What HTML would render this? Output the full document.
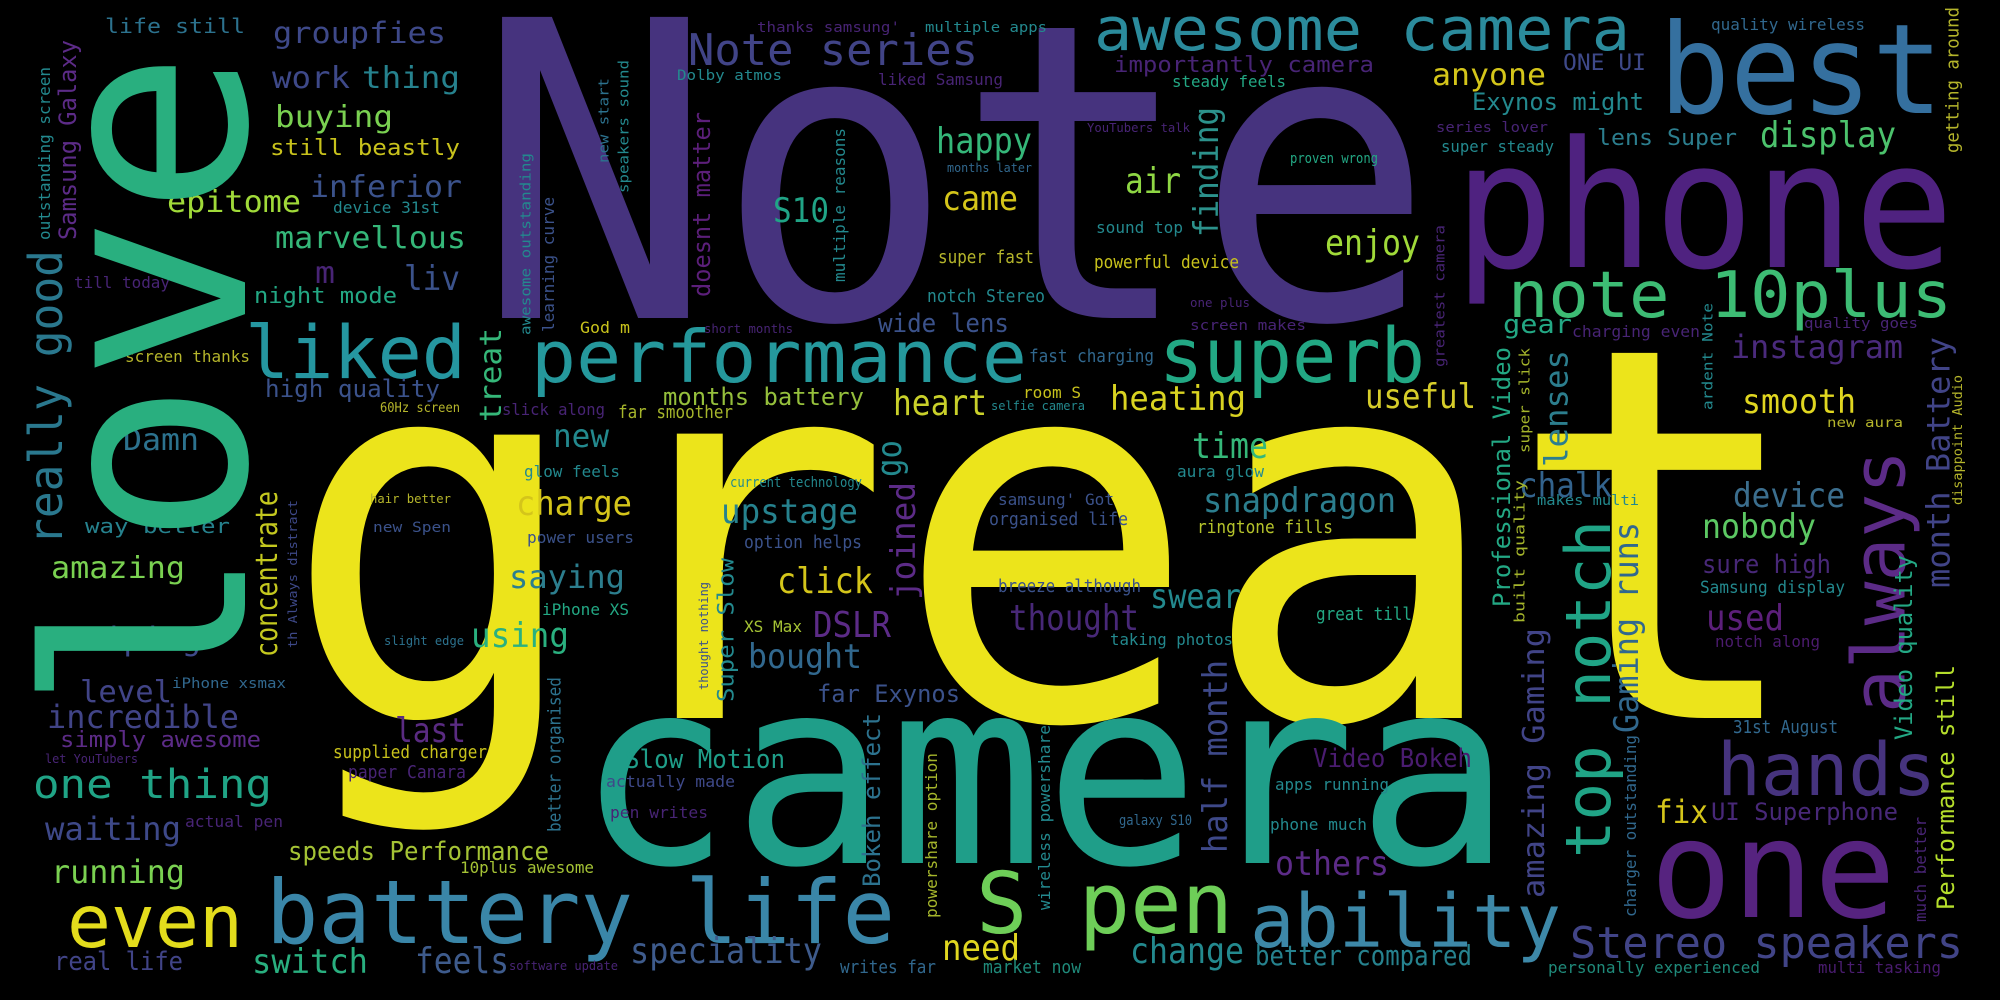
<!DOCTYPE html>
<html><head><meta charset="utf-8"><title>Word cloud</title>
<style>
html,body{margin:0;padding:0;background:#000;}
svg{display:block;}
text{font-family:"DejaVu Sans Mono","Liberation Mono",monospace;}
</style></head>
<body>
<svg id="cloud" width="2000" height="1000" viewBox="0 0 2000 1000" xmlns="http://www.w3.org/2000/svg">
<rect x="0" y="0" width="2000" height="1000" fill="#000"/>
</svg>
<script>
// horizontal words: text, x0, x1, baseline, size, color
const hWords = [
["Note",475,1435,318,413,"#46337e"],
["great",281,1811,718,520,"#ece41b"],
["camera",576,1512,863,259,"#1f9e89"],
["phone",1454,1954,267,176,"#4f2280"],
["best",1659,1943,113,125,"#35709f"],
["one",1650,1896,917,136,"#56237f"],
["hands",1717,1936,795,73,"#46337e"],
["superb",1159,1425,382,76,"#22a884"],
["performance",531,1027,382,72,"#25989c"],
["liked",245,466,378,73,"#2596a0"],
["note 10plus",1508,1952,317,64,"#3dbc74"],
["awesome camera",1094,1630,50,60,"#2b8b9c"],
["Note series",688,978,65,44,"#414487"],
["battery life",266,895,943,88,"#3a86a8"],
["S pen",976,1233,933,85,"#6ece58"],
["ability",1250,1561,947,74,"#3d88a8"],
["even",67,243,947,73,"#e3dc1c"],
["Stereo speakers",1570,1963,958,44,"#414487"],
["instagram",1731,1903,358,32,"#4a2a7c"],
["smooth",1742,1856,413,34,"#e0d620"],
["useful",1365,1476,408,34,"#d6cd2a"],
["heating",1110,1246,410,34,"#d9d321"],
["heart",893,987,415,36,"#c9d02a"],
["months battery",663,864,405,24,"#95bf3c"],
["chalk",1519,1612,497,34,"#33638d"],
["device",1733,1845,507,34,"#3b6e8e"],
["nobody",1702,1816,538,34,"#5cc863"],
["sure high",1702,1831,573,26,"#482878"],
["Samsung display",1700,1845,593,17,"#23898e"],
["used",1706,1784,630,36,"#5c1f7a"],
["notch along",1715,1820,647,16,"#4b1b6e"],
["31st August",1733,1838,733,18,"#31688e"],
["fix",1655,1708,823,32,"#d4c51a"],
["UI Superphone",1711,1898,820,24,"#482878"],
["personally experienced",1548,1760,973,16,"#1f8a7a"],
["multi tasking",1818,1941,973,16,"#4a1c70"],
["Video Bokeh",1313,1472,767,26,"#4a1c70"],
["apps running",1275,1389,790,16,"#23898e"],
["phone much",1270,1367,830,16,"#23898e"],
["others",1275,1389,875,34,"#5c2b87"],
["better compared",1255,1472,965,28,"#26828e"],
["change",1130,1244,963,36,"#23898e"],
["need",942,1020,960,36,"#e0d620"],
["writes far",840,936,973,18,"#31688e"],
["market now",983,1081,973,18,"#1f8a7a"],
["galaxy S10",1119,1192,825,14,"#31688e"],
["speciality",630,822,963,36,"#3e5b8c"],
["software update",509,618,970,12,"#482475"],
["feels",415,509,973,36,"#3e5b8c"],
["switch",252,368,973,34,"#29af7f"],
["real life",54,183,970,26,"#414487"],
["running",51,185,883,32,"#7ad151"],
["10plus awesome",460,594,873,16,"#a5c335"],
["speeds Performance",288,549,860,26,"#a5c335"],
["waiting",45,181,840,32,"#3e4989"],
["actual pen",185,283,827,16,"#482475"],
["one thing",33,272,798,40,"#20a486"],
["paper Canara",348,466,778,18,"#482475"],
["supplied charger",333,487,758,18,"#c8c21c"],
["last",395,466,742,34,"#5a2b82"],
["let YouTubers",45,138,763,12,"#482475"],
["simply awesome",60,261,747,22,"#5c2b87"],
["incredible",47,239,728,32,"#414487"],
["iPhone xsmax",172,286,688,14,"#31688e"],
["level",80,172,702,30,"#414487"],
["using",471,569,647,34,"#2ab07f"],
["slight edge",384,464,645,12,"#2c728e"],
["swiping",65,201,650,32,"#3e4989"],
["iPhone XS",542,629,615,16,"#23a884"],
["saying",509,625,588,32,"#2c7e8e"],
["power users",527,634,543,16,"#3b528b"],
["charge",516,632,515,34,"#d4c51a"],
["new Spen",373,451,532,14,"#3b528b"],
["hair better",370,451,503,12,"#b5b52b"],
["amazing",51,185,578,30,"#7ad151"],
["way better",85,230,533,20,"#26828e"],
["Slow Motion",625,785,768,26,"#1f9e89"],
["actually made",606,735,787,16,"#3e4989"],
["pen writes",610,708,818,16,"#482475"],
["far Exynos",817,960,702,24,"#3b528b"],
["bought",748,862,668,34,"#31688e"],
["DSLR",813,891,637,36,"#5c2b87"],
["XS Max",744,802,632,16,"#a5c335"],
["thought",1009,1139,630,36,"#482878"],
["taking photos",1110,1233,645,16,"#23898e"],
["great till",1316,1412,620,18,"#23a884"],
["swear",1150,1241,608,34,"#23898e"],
["breeze although",998,1141,592,18,"#3b528b"],
["click",777,873,593,36,"#d4c51a"],
["ringtone fills",1197,1333,533,18,"#b5c32b"],
["snapdragon",1203,1396,512,34,"#2c7e8e"],
["organised life",989,1128,525,18,"#3b528b"],
["samsung' Got",998,1114,505,16,"#3b528b"],
["option helps",744,862,548,18,"#3b528b"],
["upstage",721,858,523,34,"#26828e"],
["makes multi",1537,1639,505,14,"#23898e"],
["glow feels",524,620,477,16,"#23898e"],
["aura glow",1177,1264,477,16,"#23898e"],
["current technology",730,862,487,14,"#23898e"],
["time",1192,1268,458,36,"#35b779"],
["new",553,609,447,32,"#23898e"],
["slick along",502,605,415,16,"#482475"],
["far smoother",618,733,418,18,"#a5b52b"],
["room S",1023,1081,398,16,"#c8c21c"],
["selfie camera",991,1085,410,12,"#23898e"],
["fast charging",1029,1154,362,18,"#31688e"],
["short months",704,793,333,12,"#482475"],
["wide lens",878,1009,332,26,"#3b528b"],
["screen makes",1190,1306,330,14,"#482475"],
["one plus",1190,1250,307,12,"#482475"],
["notch Stereo",927,1045,302,18,"#23898e"],
["super fast",938,1034,263,18,"#b5b52b"],
["powerful device",1094,1239,268,18,"#c8c21c"],
["sound top",1096,1183,233,16,"#23898e"],
["S10",773,829,222,34,"#20a486"],
["came",942,1018,210,34,"#d4c51a"],
["air",1125,1181,193,36,"#8fd744"],
["months later",947,1032,172,12,"#31688e"],
["happy",936,1032,153,36,"#35b779"],
["YouTubers talk",1087,1190,132,12,"#482475"],
["steady feels",1172,1286,87,16,"#23a884"],
["liked Samsung",878,1003,85,16,"#482475"],
["Dolby atmos",677,782,80,14,"#23898e"],
["importantly camera",1114,1374,72,22,"#482475"],
["thanks samsung'",757,900,32,14,"#482475"],
["multiple apps",925,1047,32,14,"#23898e"],
["quality wireless",1711,1865,30,16,"#31688e"],
["ONE UI",1563,1646,70,22,"#3e4989"],
["anyone",1432,1546,85,30,"#d4c51a"],
["Exynos might",1472,1644,110,24,"#23898e"],
["series lover",1436,1548,132,14,"#482475"],
["lens Super",1597,1737,145,22,"#2c7e8e"],
["display",1760,1896,147,36,"#4cc26c"],
["super steady",1441,1554,152,16,"#23898e"],
["proven wrong",1290,1378,163,14,"#23a884"],
["enjoy",1325,1420,255,36,"#a0da39"],
["gear",1503,1572,333,26,"#23a884"],
["charging even",1572,1700,337,16,"#482475"],
["quality goes",1804,1918,328,14,"#482475"],
["new aura",1827,1903,427,13,"#b5b52b"],
["life still",105,245,33,20,"#2c728e"],
["groupfies",273,446,43,29,"#3e4989"],
["work",272,350,88,30,"#3e4989"],
["thing",362,460,88,30,"#26828e"],
["buying",275,393,127,30,"#7ad151"],
["still beastly",270,460,155,22,"#c8c21c"],
["inferior",310,462,197,30,"#3b528b"],
["epitome",167,301,212,30,"#a0da39"],
["device 31st",333,440,213,16,"#23898e"],
["marvellous",275,466,248,30,"#35b779"],
["m",315,335,283,30,"#482475"],
["liv",404,460,290,34,"#3b528b"],
["night mode",254,397,303,22,"#23a884"],
["till today",74,170,288,16,"#482475"],
["screen thanks",125,250,362,16,"#b5b52b"],
["high quality",265,440,397,24,"#3b528b"],
["60Hz screen",380,460,412,13,"#b5b52b"],
["Damn",123,199,450,30,"#2c728e"],
["God m",580,630,333,16,"#c8c21c"]
];
// vertical words (reading upward): text, bottomY, topY, leftX, size, color
const vWords = [
["love",712,50,36,275,"#29af7f"],
["really good",545,250,27,46,"#2a788e"],
["Samsung Galaxy",240,40,58,24,"#5c2b87"],
["outstanding screen",240,67,38,16,"#23898e"],
["concentrate",657,491,254,30,"#c4c81f"],
["th Always distract",648,500,288,12,"#3e4989"],
["treat",422,328,478,30,"#35b779"],
["awesome outstanding",335,153,520,14,"#23898e"],
["learning curve",332,197,542,16,"#3b528b"],
["new start",163,78,598,14,"#2c728e"],
["speakers sound",193,60,618,14,"#23898e"],
["doesnt matter",297,112,692,24,"#5c1f7a"],
["multiple reasons",282,128,833,16,"#23898e"],
["finding",237,107,1192,34,"#2c928c"],
["go",477,440,875,34,"#23898e"],
["joined",600,482,889,34,"#5c2b87"],
["Super Slow",702,558,717,22,"#23898e"],
["thought nothing",690,582,699,12,"#3b528b"],
["Bokeh effect",887,713,862,24,"#2c728e"],
["powershare option",918,753,925,16,"#a5b52b"],
["wireless powershare",910,725,1038,16,"#23898e"],
["half month",853,660,1201,34,"#3e4989"],
["better organised",832,677,547,18,"#2c728e"],
["greatest camera",367,225,1434,14,"#482475"],
["ardent Note",410,303,1702,14,"#23898e"],
["Professional Video",607,347,1492,24,"#23a884"],
["super slick",453,348,1519,14,"#a5b52b"],
["lenses",467,350,1543,32,"#2c7e8e"],
["built quality",623,480,1514,14,"#a5b52b"],
["top notch",858,520,1563,62,"#20a486"],
["Gaming runs",733,522,1612,34,"#31688e"],
["amazing Gaming",898,628,1521,30,"#414487"],
["charger outstanding",917,735,1624,16,"#31688e"],
["always",713,450,1849,73,"#5c2b87"],
["month Battery",588,337,1925,32,"#414487"],
["disappoint Audio",505,375,1952,13,"#b5b52b"],
["Video quality",740,555,1894,24,"#23a884"],
["Performance still",910,665,1936,24,"#b5de2b"],
["much better",922,817,1914,16,"#482475"],
["getting around",153,7,1945,18,"#b5b52b"]
];
const NS = "http://www.w3.org/2000/svg";
const svg = document.getElementById("cloud");
function slug(s){return "word-" + s.toLowerCase().replace(/[^a-z0-9]+/g,"-").replace(/^-|-$/g,"");}
hWords.forEach(w => {
  const t = document.createElementNS(NS, "text");
  t.setAttribute("x", w[1]);
  t.setAttribute("y", w[3]);
  t.setAttribute("font-size", w[4]);
  t.setAttribute("fill", w[5]);
  t.setAttribute("textLength", w[2] - w[1]);
  t.setAttribute("lengthAdjust", "spacingAndGlyphs");
  
  
  t.textContent = w[0];
  svg.appendChild(t);
});
vWords.forEach(w => {
  const t = document.createElementNS(NS, "text");
  const bx = w[3] + 0.76 * w[4];
  t.setAttribute("x", 0);
  t.setAttribute("y", 0);
  t.setAttribute("transform", "translate(" + bx + "," + w[1] + ") rotate(-90)");
  t.setAttribute("font-size", w[4]);
  t.setAttribute("fill", w[5]);
  t.setAttribute("textLength", w[1] - w[2]);
  t.setAttribute("lengthAdjust", "spacingAndGlyphs");
  
  
  t.textContent = w[0];
  svg.appendChild(t);
});
</script>
</body></html>
